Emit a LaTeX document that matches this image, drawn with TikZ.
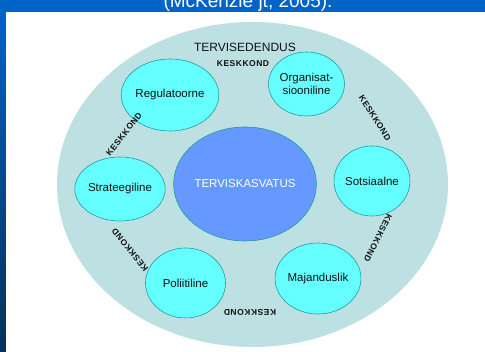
\documentclass[tikz,border=0pt]{standalone}
\usepackage{fontspec}
\setmainfont{Liberation Sans}
\newfontfamily\kfont{Liberation Sans}[LetterSpace=6]
\usetikzlibrary{shapes.geometric}
\definecolor{slideblue}{HTML}{0063C6}
\definecolor{slidedark}{HTML}{03305C}
\definecolor{outerfill}{HTML}{BDE0E3}
\definecolor{cyanfill}{HTML}{66FFFF}
\definecolor{tealline}{HTML}{1E9E9E}
\definecolor{corefill}{HTML}{6699FF}
\definecolor{txt}{HTML}{111111}
\tikzset{
  domainbox/.style={ellipse, draw=tealline, line width=0.6pt, fill=cyanfill, inner sep=0pt,
    text=txt, font=\fontsize{11.5}{12.5}\selectfont, align=center},
  keskbox/.style={inner sep=0pt, text=txt, font=\kfont\bfseries\fontsize{8.5}{9}\selectfont},
}
\begin{document}
\begin{tikzpicture}[x=1pt,y=1pt]
\useasboundingbox (0,0) rectangle (485,352);
% slide background
\fill[slideblue] (0,0) rectangle (485,352);
\shade[top color=slideblue, bottom color=slidedark] (0,0) rectangle (6,340);
\node[anchor=base, text=white, font=\fontsize{19}{21}\selectfont, inner sep=0pt] (title) at (248,344) {(McKenzie jt, 2005).};
% white panel
\fill[white] (6,0) rectangle (485,340);
% outer ellipse
\node[ellipse, fill=outerfill, minimum width=391pt, minimum height=325pt, inner sep=0pt] (outer) at (252.5,167.5) {};
\node[text=txt, font=\fontsize{12}{13}\selectfont, inner sep=0pt] (tervisedendus) at (245,305) {TERVISEDENDUS};
% core
\node[ellipse, draw=tealline, line width=0.6pt, fill=corefill, minimum width=122pt, minimum height=114pt, inner sep=0pt,
  text=white, font=\fontsize{11.5}{12.5}\selectfont] (core) at (245,168) {TERVISKASVATUS};
% domains
\node[domainbox, minimum width=68pt, minimum height=72pt] (regul) at (170,257) {Regulatoorne};
\node[domainbox, minimum width=70pt, minimum height=64pt] (organ) at (306.5,268) {Organisat-\\siooniline};
\node[domainbox, minimum width=74pt, minimum height=70pt] (sots) at (372,171) {Sotsiaalne};
\node[domainbox, minimum width=78pt, minimum height=71pt] (majand) at (318,73.5) {Majanduslik};
\node[domainbox, minimum width=80pt, minimum height=70pt] (poliit) at (185.5,69) {Poliitiline};
\node[domainbox, minimum width=80pt, minimum height=64pt] (strat) at (120,163) {Strateegiline};
% environment labels
\node[keskbox] (k1) at (243,288) {KESKKOND};
\node[keskbox, rotate=-58] (k2) at (375,234) {KESKKOND};
\node[keskbox, rotate=-117] (k3) at (378,114) {KESKKOND};
\node[keskbox, rotate=180] (k4) at (250,40) {KESKKOND};
\node[keskbox, rotate=129] (k5) at (130,102) {KESKKOND};
\node[keskbox, rotate=52] (k6) at (124,218) {KESKKOND};
\end{tikzpicture}
\end{document}
